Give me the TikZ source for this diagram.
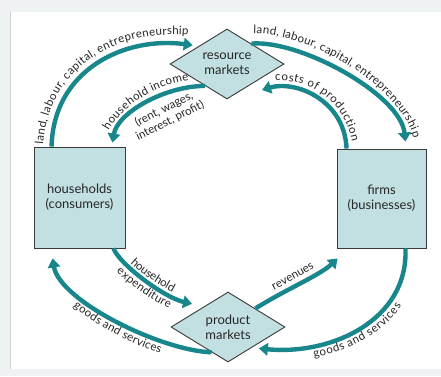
\documentclass[tikz,border=0pt]{standalone}
\usepackage{fontspec}
\setmainfont{Lato}
\usetikzlibrary{shapes.geometric,arrows.meta,decorations.text}
\definecolor{FlowTeal}{HTML}{17878C}
\definecolor{BoxFill}{HTML}{C2E0E1}
\definecolor{BoxLine}{HTML}{3A3A3A}
\definecolor{TextGrey}{HTML}{262626}
\definecolor{PageGrey}{HTML}{EEF2F2}
\newcommand{\flowfont}{\fontsize{11.5}{13}\selectfont}
\tikzset{
  sector/.style={draw=BoxLine,fill=BoxFill,line width=0.9pt,align=center,
    font=\fontsize{13}{15}\selectfont,text=TextGrey},
  market/.style={diamond,draw=BoxLine,fill=BoxFill,line width=0.9pt,inner sep=0pt,
    shape aspect=1.6,minimum width=114pt,minimum height=70pt,align=center,
    font=\fontsize{13}{15}\selectfont,text=TextGrey},
  flow/.style={draw=FlowTeal,line width=4.4pt,-{Triangle[length=9pt,width=12.5pt]}}
}
% text set along a curve, raised to one side of it
\newcommand{\flowlabel}[3]{%
  \path[decorate,decoration={text along path,text align=center,raise=#1,
    text={|\flowfont\color{TextGrey}|#2}}] #3;}

\begin{document}
\begin{tikzpicture}[x=1pt,y=-1pt]
  \fill[PageGrey] (0,0) rectangle (441,376);
  \fill[white] (10,12) rectangle (441,369);
  \draw[black!18,line width=1pt] (10,12) -- (10,369);

  \node[sector,minimum width=91pt,minimum height=101pt] (hh) at (79.5,197.5) {households\\(consumers)};
  \node[sector,minimum width=89pt,minimum height=99pt] (firms) at (381.5,198.5) {firms\\(businesses)};
  \node[market] (res) at (227,64) {resource\\markets};
  \node[market] (prod) at (228,327) {product\\markets};

  % factor markets
  \draw[flow] ([xshift=18pt]hh.north west) .. controls +(2,-77) and +(-68,-9) .. ([xshift=-4pt,yshift=2pt]res.151);
  \draw[flow] (res.225) .. controls +(-40,0) and +(5,-30) .. ([xshift=-13pt,yshift=4pt]hh.north east);
  \draw[flow] (res.40) .. controls +(49,-4) and +(-5,-47) .. ([xshift=-21pt,yshift=7pt]firms.north east);
  \draw[flow] ([xshift=10pt]firms.north west) .. controls +(-2,-49) and +(33,-10) .. ([xshift=35pt,yshift=-26pt]res.center);

  % goods markets
  \draw[flow] ([xshift=-12pt]hh.south east) .. controls +(7,17) and +(-27,-6) .. ([xshift=-8pt,yshift=5pt]prod.147);
  \draw[flow] (prod.237) .. controls +(-52,-2) and +(7,42) .. ([xshift=19pt,yshift=-10pt]hh.south west);
  \draw[flow] (prod.34) .. controls +(30,-19) and +(-18,17) .. ([xshift=1pt,yshift=-10pt]firms.south west);
  \draw[flow] ([xshift=-21pt]firms.south east) .. controls +(3,72) and +(72,7) .. ([yshift=-5pt]prod.-28);

  % labels on the upper loop
  \flowlabel{9pt}{land, labour, capital, entrepreneurship}{([xshift=18pt,yshift=-8pt]hh.north west) .. controls +(2,-85) and +(-72,-9) .. ([xshift=0pt,yshift=2pt]res.151)}
  \flowlabel{7pt}{household income}{([xshift=-16pt,yshift=-2pt]hh.north east) .. controls +(8,-36) and +(-40,0) .. (res.225)}
  \node[font=\flowfont,text=TextGrey,align=center,inner sep=0pt,rotate=27] (pay) at (167,115) {(rent, wages,\\interest, profit)};
  \flowlabel{9pt}{land, labour, capital, entrepreneurship}{([xshift=-6pt,yshift=1pt]res.40) .. controls +(55,-5) and +(-6,-54) .. ([xshift=-20pt]firms.north east)}
  \flowlabel{7pt}{costs of production}{([xshift=35pt,yshift=-26pt]res.center) .. controls +(33,-10) and +(-2,-57) .. ([xshift=10pt,yshift=-8pt]firms.north west)}

  % labels on the lower loop
  \flowlabel{4pt}{household}{([xshift=-12pt]hh.south east) .. controls +(7,17) and +(-27,-6) .. ([xshift=-8pt,yshift=5pt]prod.147)}
  \flowlabel{-12pt}{expenditure}{([xshift=-12pt]hh.south east) .. controls +(7,17) and +(-27,-6) .. ([xshift=-8pt,yshift=5pt]prod.147)}
  \flowlabel{-12pt}{goods and services}{([xshift=19pt,yshift=-10pt]hh.south west) .. controls +(7,42) and +(-52,-2) .. (prod.237)}
  \flowlabel{6pt}{revenues}{(prod.34) .. controls +(30,-19) and +(-18,17) .. ([xshift=1pt,yshift=-10pt]firms.south west)}
  \flowlabel{-12pt}{goods and services}{([yshift=-5pt]prod.-28) .. controls +(72,7) and +(3,72) .. ([xshift=-21pt]firms.south east)}
\end{tikzpicture}
\end{document}
